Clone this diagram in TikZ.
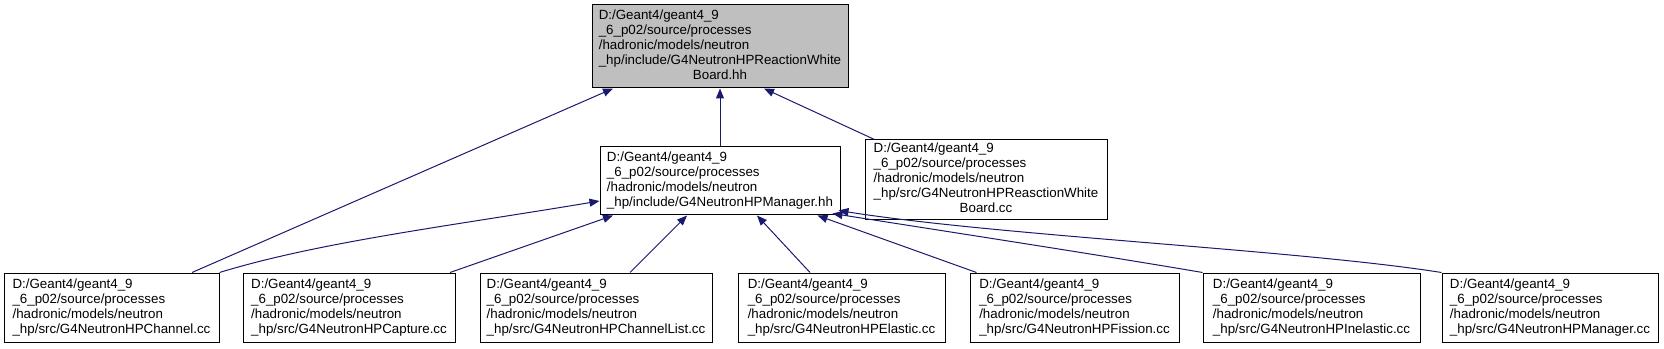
\documentclass[tikz,border=0pt]{standalone}
\usepackage{fontspec}
\setmainfont{Liberation Sans}
\usetikzlibrary{arrows.meta,calc}
\definecolor{edgeblue}{RGB}{25,25,112}
\definecolor{hlgray}{RGB}{191,191,191}
\newcommand\boxlines[1]{\begin{tabular}{@{}l@{}}#1\end{tabular}}
\newcommand\lastc[1]{\multicolumn{1}{@{}c@{}}{#1}}
\tikzset{
  box/.style={draw=black, line width=0.75pt, inner sep=0pt, fill=white,
    font=\fontsize{10}{11.25}\selectfont},
  hlbox/.style={box, fill=hlgray},
  edge/.style={draw=edgeblue, line width=0.75pt,
    -{Triangle[length=7.5pt,width=6pt]}, shorten >=0pt},
}
\begin{document}
\begin{tikzpicture}[x=0.75pt, y=-0.75pt]
\useasboundingbox (0,0) rectangle (1664,349);
% top
\node[hlbox, minimum width=192pt, minimum height=62.25pt] (top) at (720,46.5)
  {\boxlines{D:/Geant4/geant4\_9\\\_6\_p02/source/processes\\/hadronic/models/neutron\\\_hp/include/G4NeutronHPReactionWhite\\\lastc{Board.hh}}};
% middle
\node[box, minimum width=180pt, minimum height=51pt] (man) at (720,181)
  {\boxlines{D:/Geant4/geant4\_9\\\_6\_p02/source/processes\\/hadronic/models/neutron\\\_hp/include/G4NeutronHPManager.hh}};
\node[box, minimum width=181.5pt, minimum height=60pt] (rea) at (986,180)
  {\boxlines{D:/Geant4/geant4\_9\\\_6\_p02/source/processes\\/hadronic/models/neutron\\\_hp/src/G4NeutronHPReasctionWhite\\\lastc{Board.cc}}};
% bottom
\node[box, minimum width=161.25pt, minimum height=51.75pt] (b1) at (111.5,307.5)
  {\boxlines{D:/Geant4/geant4\_9\\\_6\_p02/source/processes\\/hadronic/models/neutron\\\_hp/src/G4NeutronHPChannel.cc}};
\node[box, minimum width=159pt, minimum height=51.75pt] (b2) at (349,307.5)
  {\boxlines{D:/Geant4/geant4\_9\\\_6\_p02/source/processes\\/hadronic/models/neutron\\\_hp/src/G4NeutronHPCapture.cc}};
\node[box, minimum width=174pt, minimum height=51.75pt] (b3) at (596,307.5)
  {\boxlines{D:/Geant4/geant4\_9\\\_6\_p02/source/processes\\/hadronic/models/neutron\\\_hp/src/G4NeutronHPChannelList.cc}};
\node[box, minimum width=155.25pt, minimum height=51.75pt] (b4) at (841.5,307.5)
  {\boxlines{D:/Geant4/geant4\_9\\\_6\_p02/source/processes\\/hadronic/models/neutron\\\_hp/src/G4NeutronHPElastic.cc}};
\node[box, minimum width=156.75pt, minimum height=51.75pt] (b5) at (1074.5,307.5)
  {\boxlines{D:/Geant4/geant4\_9\\\_6\_p02/source/processes\\/hadronic/models/neutron\\\_hp/src/G4NeutronHPFission.cc}};
\node[box, minimum width=162.75pt, minimum height=51.75pt] (b6) at (1311.5,307.5)
  {\boxlines{D:/Geant4/geant4\_9\\\_6\_p02/source/processes\\/hadronic/models/neutron\\\_hp/src/G4NeutronHPInelastic.cc}};
\node[box, minimum width=162pt, minimum height=51.75pt] (b7) at (1550,307.5)
  {\boxlines{D:/Geant4/geant4\_9\\\_6\_p02/source/processes\\/hadronic/models/neutron\\\_hp/src/G4NeutronHPManager.cc}};
% edges to top
\draw[edge] (man.north) -- (top.south);
\draw[edge] ($(rea.north west)+(10,0)$) -- ($(top.south)+(44,0)$);
\draw[edge] ($(b1.north)+(80.5,0)$) -- ($(top.south)+(-107,0)$);
% edges to manager
\draw[edge] (b1.north east) .. controls (319,242) and (450,226) .. ($(man.west)+(0,20)$);
\draw[edge] ($(b2.north)+(101,0)$) -- ($(man.south)+(-107,0)$);
\draw[edge] ($(b3.north)+(34,0)$) -- ($(man.south)+(-33,0)$);
\draw[edge] ($(b4.north)+(-31.5,0)$) -- ($(man.south)+(37,0)$);
\draw[edge] ($(b5.north west)+(7,0)$) -- ($(man.south east)+(-23,0)$);
\draw[edge] (b6.north west) .. controls (1100,255) and (950,232) .. ($(man.south east)+(-8,-2)$);
\draw[edge] (b7.north west) .. controls (1300,250) and (1000,236) .. ($(man.south east)+(-2,-5)$);
\end{tikzpicture}
\end{document}
